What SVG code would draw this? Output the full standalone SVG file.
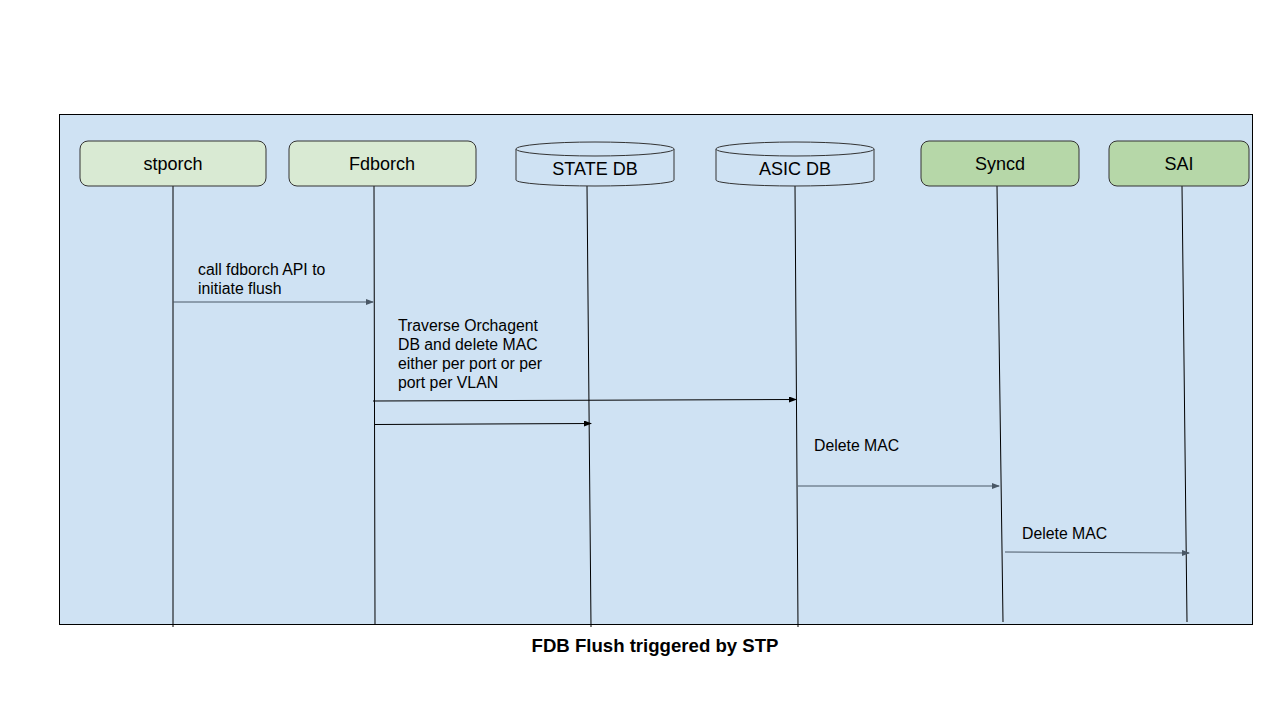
<svg xmlns="http://www.w3.org/2000/svg" width="1280" height="720" viewBox="0 0 1280 720">
  <defs>
    <marker id="arrowGray" markerWidth="8" markerHeight="6" refX="7" refY="3" orient="auto" markerUnits="userSpaceOnUse">
      <path d="M0,0 L8,3 L0,6 Z" fill="#4a5866"/>
    </marker>
    <marker id="arrowBlack" markerWidth="8" markerHeight="6" refX="7" refY="3" orient="auto" markerUnits="userSpaceOnUse">
      <path d="M0,0 L8,3 L0,6 Z" fill="#000"/>
    </marker>
  </defs>
  <style>
    .frame { fill: #cfe2f3; stroke: #000; stroke-width: 1; }
    .light { fill: #d9ead3; stroke: #333; stroke-width: 1; }
    .dark { fill: #b6d7a8; stroke: #333; stroke-width: 1; }
    .db { fill: #cfe2f3; stroke: #333; stroke-width: 1; }
    .life { stroke: #000; stroke-width: 1; fill: none; }
    .msgGray { stroke: #4a5866; stroke-width: 1; fill: none; marker-end: url(#arrowGray); }
    .msgBlack { stroke: #000; stroke-width: 1; fill: none; marker-end: url(#arrowBlack); }
    .name { font-family: "Liberation Sans", Arial, sans-serif; font-size: 18px; fill: #000; text-anchor: middle; }
    .label { font-family: "Liberation Sans", Arial, sans-serif; font-size: 15.8px; fill: #000; }
    .title { font-family: "Liberation Sans", Arial, sans-serif; font-size: 18.6px; font-weight: bold; fill: #000; text-anchor: middle; }
  </style>

  <rect width="1280" height="720" fill="#fff"/>
  <rect class="frame" x="59.5" y="114.5" width="1193" height="510"/>

  <!-- lifelines -->
  <g id="lifelines">
    <line class="life" x1="173" y1="186" x2="173" y2="627"/>
    <line class="life" x1="374" y1="186" x2="375" y2="625"/>
    <line class="life" x1="587" y1="186" x2="591" y2="627"/>
    <line class="life" x1="795" y1="186" x2="798" y2="627"/>
    <line class="life" x1="997" y1="186" x2="1003" y2="622"/>
    <line class="life" x1="1182" y1="186" x2="1187" y2="622"/>
  </g>

  <g id="stporch">
    <rect class="light" x="80" y="141" width="186" height="45" rx="8"/>
    <text class="name" x="173" y="170">stporch</text>
  </g>
  <g id="fdborch">
    <rect class="light" x="289" y="141" width="187" height="45" rx="8"/>
    <text class="name" x="382" y="170">Fdborch</text>
  </g>
  <g id="state-db">
    <path class="db" d="M516,149 L516,180 A79,6 0 0 0 674,180 L674,149 A79,7 0 0 0 516,149 Z"/>
    <path class="db" d="M516,149 A79,7 0 0 0 674,149"/>
    <text class="name" x="595" y="175">STATE DB</text>
  </g>
  <g id="asic-db">
    <path class="db" d="M716,149 L716,180 A79,6 0 0 0 874,180 L874,149 A79,7 0 0 0 716,149 Z"/>
    <path class="db" d="M716,149 A79,7 0 0 0 874,149"/>
    <text class="name" x="795" y="175">ASIC DB</text>
  </g>
  <g id="syncd">
    <rect class="dark" x="921" y="141" width="158" height="45" rx="8"/>
    <text class="name" x="1000" y="170">Syncd</text>
  </g>
  <g id="sai">
    <rect class="dark" x="1109" y="141" width="140" height="45" rx="8"/>
    <text class="name" x="1179" y="170">SAI</text>
  </g>

  <!-- messages -->
  <g id="connectors">
    <line class="msgGray" x1="173" y1="302" x2="373" y2="302"/>
    <line class="msgBlack" x1="373" y1="401" x2="796" y2="399.5"/>
    <line class="msgBlack" x1="375" y1="424.5" x2="591" y2="423.5"/>
    <line class="msgGray" x1="798" y1="486" x2="999" y2="486"/>
    <line class="msgGray" x1="1005" y1="552" x2="1189" y2="553"/>
  </g>

  <g id="labels">
    <text class="label" x="198" y="275">call fdborch API to</text>
    <text class="label" x="198" y="294">initiate flush</text>
    <text class="label" x="398" y="331">Traverse Orchagent</text>
    <text class="label" x="398" y="350">DB and delete MAC</text>
    <text class="label" x="398" y="369">either per port or per</text>
    <text class="label" x="398" y="388">port per VLAN</text>
    <text class="label" x="814" y="451">Delete MAC</text>
    <text class="label" x="1022" y="539">Delete MAC</text>
  </g>

  <text class="title" x="655" y="652">FDB Flush triggered by STP</text>
</svg>
